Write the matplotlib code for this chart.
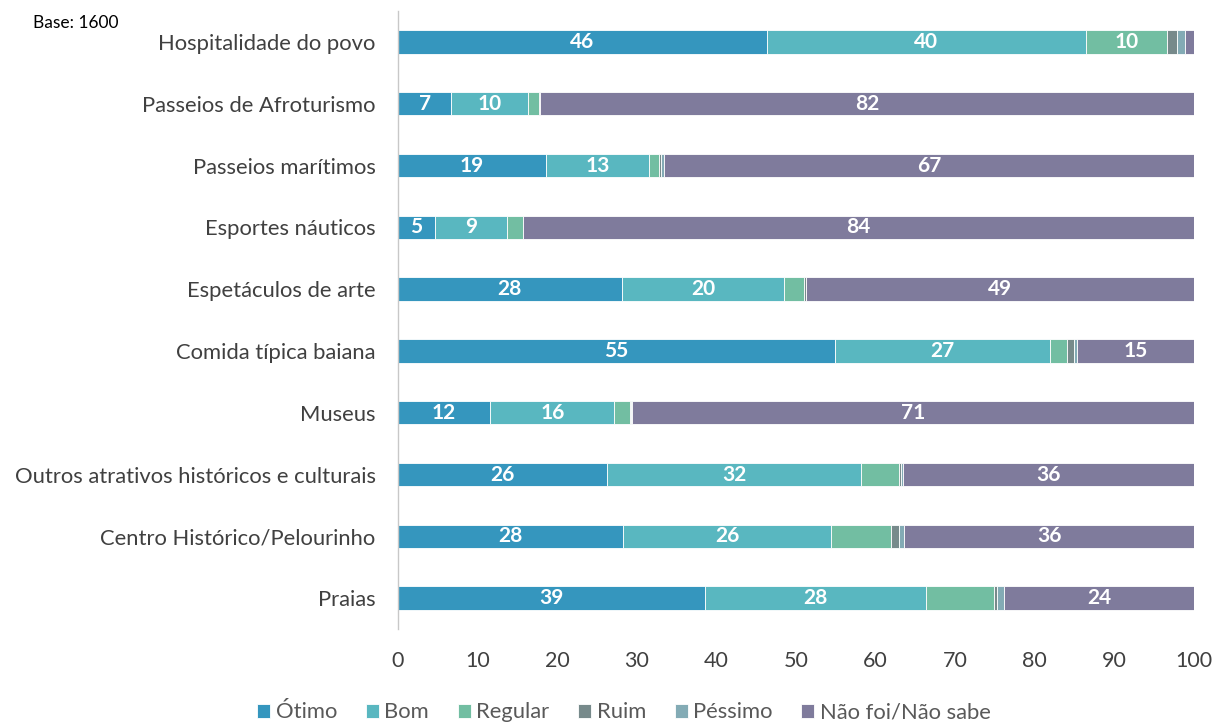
import matplotlib
matplotlib.use("Agg")
import matplotlib.pyplot as plt
import numpy as np

plt.rcParams['font.family'] = ['Lato', 'DejaVu Sans']

categories = [
    "Praias",
    "Centro Histórico/Pelourinho",
    "Outros atrativos históricos e culturais",
    "Museus",
    "Comida típica baiana",
    "Espetáculos de arte",
    "Esportes náuticos",
    "Passeios marítimos",
    "Passeios de Afroturismo",
    "Hospitalidade do povo",
]

series_names = ["Ótimo", "Bom", "Regular", "Ruim", "Péssimo", "Não foi/Não sabe"]

otimo   = [38.6, 28.3, 26.3, 11.6, 54.9, 28.1, 4.6, 18.6, 6.7, 46.3]
bom     = [27.7, 26.1, 31.9, 15.6, 27.0, 20.4, 9.1, 12.9, 9.6, 40.1]
regular = [8.6, 7.6, 4.8, 2.0, 2.2, 2.5, 2.0, 1.3, 1.4, 10.2]
ruim    = [0.4, 1.0, 0.2, 0.1, 0.8, 0.2, 0.0, 0.3, 0.1, 1.3]
pessimo = [0.8, 0.6, 0.3, 0.1, 0.4, 0.1, 0.0, 0.3, 0.1, 1.0]
nao_foi = [23.9, 36.4, 36.5, 70.6, 14.7, 48.7, 84.3, 66.6, 82.1, 1.1]

colors = ["#3596be", "#59b7c0", "#72bea2", "#778a8b", "#83abb5", "#7f7b9c"]
# smallest value that gets a data label, per series
label_min = [4.5, 4.5, 9.5, 101, 101, 4.5]

series = [otimo, bom, regular, ruim, pessimo, nao_foi]

fig = plt.figure(figsize=(12.14, 7.24), dpi=100)
ax = fig.add_axes([0.3278, 0.1312, 0.6557, 0.8536])

y = np.arange(len(categories))
left = np.zeros(len(categories))
for name, vals, col, lmin in zip(series_names, series, colors, label_min):
    vals = np.array(vals)
    ax.barh(y, vals, left=left, height=0.38, color=col, edgecolor="white",
            linewidth=0.6, label=name)
    for yi, (l, v) in enumerate(zip(left, vals)):
        if v >= lmin:
            ax.text(l + v / 2, yi, f"{v:.0f}", ha="center", va="center",
                    color="white", fontsize=15, fontweight="bold")
    left = left + vals

ax.set_xlim(0, 100)
ax.set_ylim(-0.5, len(categories) - 0.5)
ax.set_yticks(y)
ax.set_yticklabels(categories, fontsize=15.8, color="#404040")
ax.set_xticks(np.arange(0, 101, 10))
ax.tick_params(axis="x", labelsize=15.5, labelcolor="#404040", length=0, pad=16)
ax.tick_params(axis="y", length=0, pad=16)
for s in ["top", "right", "bottom"]:
    ax.spines[s].set_visible(False)
ax.spines["left"].set_color("#c8c8c8")
ax.spines["left"].set_linewidth(1.0)

fig.text(0.027, 0.962, "Base: 1600", fontsize=12.5, color="black")

leg = fig.legend(loc="lower center", bbox_to_anchor=(0.514, -0.025), ncol=6,
                 frameon=False, fontsize=15.8, handlelength=0.6, handleheight=0.6,
                 handletextpad=0.25, columnspacing=1.3)
for t in leg.get_texts():
    t.set_color("#595959")

fig.savefig("out.png", dpi=100)
